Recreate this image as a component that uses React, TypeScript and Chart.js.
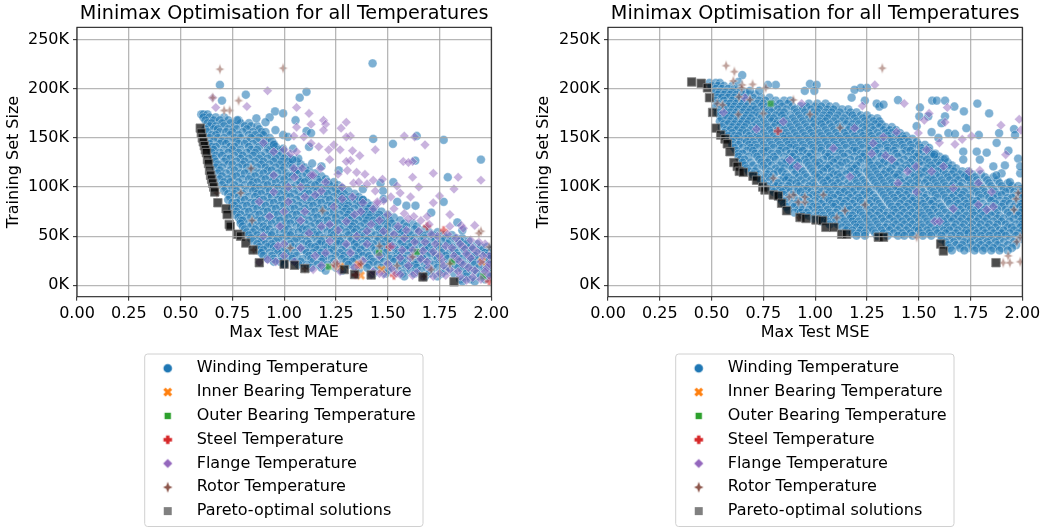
import React, { useEffect, useRef } from "react";
import { Chart, registerables } from "chart.js";

Chart.register(...registerables);

type Pair = [number, number];
type Row = [number, number[]];

const seriesNames = ["Winding Temperature", "Inner Bearing Temperature", "Outer Bearing Temperature", "Steel Temperature", "Flange Temperature", "Rotor Temperature", "Pareto-optimal solutions"];
const xTicks = [0, 0.25, 0.5, 0.75, 1, 1.25, 1.5, 1.75, 2];
const yTicks = [0, 50, 100, 150, 200, 250];

// Rows: training set size (thousands), then Max Test MAE values in hundredths
const maeWindingRows: Row[] = [
  [174, [60, 61, 63]],
  [171, [61, 64, 67, 71]],
  [168, [62, 66, 69, 73, 78]],
  [165, [63, 65, 70, 74, 79, 83]],
  [162, [64, 67, 71, 76, 81, 84, 87]],
  [159, [62, 66, 68, 73, 77, 82, 88]],
  [156, [63, 69, 72, 75, 80, 85, 89, 91]],
  [153, [65, 67, 74, 78, 83, 86, 90]],
  [150, [64, 68, 71, 76, 79, 84, 88, 93]],
  [147, [66, 70, 73, 77, 82, 87, 91, 94]],
  [144, [64, 69, 72, 78, 81, 85, 90, 95]],
  [141, [65, 67, 74, 76, 83, 88, 92, 96]],
  [138, [66, 71, 75, 79, 84, 87, 93, 97]],
  [135, [65, 69, 73, 78, 82, 86, 91, 95, 99]],
  [132, [67, 70, 76, 80, 85, 89, 94, 98, 101]],
  [129, [66, 72, 74, 79, 83, 88, 92, 96, 100, 103]],
  [126, [67, 71, 77, 81, 86, 90, 95, 99, 102, 106]],
  [123, [68, 73, 75, 80, 84, 89, 93, 98, 103, 108]],
  [120, [67, 70, 78, 82, 87, 91, 96, 100, 104, 110]],
  [117, [69, 74, 76, 83, 85, 92, 94, 99, 105, 107, 112]],
  [114, [68, 72, 79, 81, 88, 90, 97, 101, 106, 111, 115]],
  [111, [70, 75, 77, 84, 86, 93, 95, 102, 104, 109, 113, 118]],
  [108, [69, 73, 80, 83, 89, 91, 98, 100, 107, 112, 116, 120]],
  [105, [71, 74, 78, 85, 87, 94, 96, 103, 108, 110, 117, 121, 124]],
  [102, [70, 76, 81, 84, 90, 92, 99, 101, 106, 113, 115, 122, 126]],
  [99, [72, 75, 79, 86, 88, 95, 97, 104, 109, 111, 118, 120, 125, 128]],
  [96, [71, 77, 82, 85, 91, 93, 100, 102, 107, 114, 116, 123, 127, 131]],
  [93, [73, 76, 80, 87, 89, 96, 98, 105, 110, 112, 119, 121, 126, 129, 134]],
  [90, [74, 78, 83, 86, 92, 94, 101, 103, 108, 115, 117, 124, 128, 132, 136]],
  [87, [73, 79, 81, 88, 90, 97, 99, 106, 111, 113, 120, 122, 127, 130, 135, 138]],
  [84, [75, 77, 84, 86, 93, 95, 102, 104, 109, 116, 118, 125, 129, 133, 137, 140]],
  [81, [76, 80, 82, 89, 91, 98, 100, 107, 112, 114, 121, 123, 128, 131, 136, 139, 142]],
  [78, [75, 78, 85, 87, 94, 96, 103, 105, 110, 117, 119, 126, 130, 134, 138, 141, 144]],
  [75, [77, 81, 83, 90, 92, 99, 101, 108, 113, 115, 122, 124, 129, 132, 137, 140, 143, 147]],
  [72, [76, 79, 86, 88, 95, 97, 104, 106, 111, 118, 120, 127, 131, 135, 139, 142, 146, 150]],
  [69, [78, 82, 84, 91, 93, 100, 102, 109, 114, 116, 123, 125, 130, 133, 138, 141, 145, 149, 153]],
  [66, [79, 80, 87, 89, 96, 98, 105, 107, 112, 119, 121, 128, 132, 136, 140, 143, 147, 151, 156]],
  [63, [79, 83, 85, 92, 94, 101, 103, 110, 115, 117, 124, 126, 131, 134, 139, 144, 148, 152, 158, 162]],
  [60, [80, 84, 88, 90, 97, 99, 106, 108, 113, 120, 122, 129, 133, 137, 141, 145, 150, 154, 159, 164]],
  [57, [81, 86, 91, 93, 100, 102, 109, 111, 116, 118, 125, 127, 132, 135, 140, 146, 149, 155, 157, 163, 168]],
  [54, [82, 85, 89, 95, 98, 104, 107, 112, 114, 121, 123, 130, 134, 138, 142, 147, 151, 156, 160, 165, 170, 174]],
  [51, [83, 87, 92, 94, 101, 103, 110, 115, 117, 124, 126, 131, 136, 139, 144, 148, 153, 158, 161, 167, 172, 177, 181]],
  [48, [84, 88, 90, 97, 99, 106, 108, 113, 119, 122, 128, 133, 137, 141, 146, 150, 155, 159, 163, 168, 173, 178, 183, 186]],
  [45, [85, 89, 93, 96, 102, 105, 111, 116, 118, 125, 127, 132, 135, 140, 145, 149, 152, 157, 162, 166, 171, 176, 180, 185, 189]],
  [42, [87, 91, 94, 100, 103, 109, 112, 117, 120, 126, 129, 134, 138, 143, 147, 151, 156, 160, 164, 169, 174, 179, 184, 188, 193]],
  [39, [88, 92, 95, 98, 104, 107, 113, 115, 121, 123, 130, 135, 139, 142, 148, 153, 158, 161, 167, 170, 175, 181, 186, 190, 195, 198]],
  [36, [88, 90, 96, 99, 101, 108, 110, 116, 119, 124, 128, 133, 137, 144, 146, 150, 154, 159, 163, 168, 172, 177, 182, 187, 191, 196, 200]],
  [33, [89, 93, 97, 102, 105, 111, 114, 118, 122, 127, 131, 136, 140, 145, 149, 155, 157, 162, 165, 171, 176, 180, 183, 188, 193, 197, 199]],
  [30, [90, 94, 99, 103, 106, 112, 117, 120, 125, 129, 134, 138, 141, 147, 152, 156, 160, 166, 169, 173, 178, 184, 189, 192, 198, 200]],
  [27, [92, 95, 100, 104, 109, 113, 119, 123, 128, 132, 135, 142, 146, 151, 154, 158, 164, 167, 174, 179, 182, 186, 190, 194, 199]],
  [24, [95, 98, 105, 108, 114, 118, 124, 130, 133, 139, 143, 148, 153, 157, 162, 165, 170, 175, 181, 185, 191, 195, 197]],
  [21, [100, 107, 111, 116, 121, 126, 131, 137, 141, 145, 150, 156, 160, 163, 168, 172, 177, 183, 187, 192, 196, 200]],
  [18, [113, 118, 125, 134, 140, 147, 152, 159, 164, 169, 174, 180, 184, 189, 194, 198]],
  [15, [120, 128, 136, 144, 150, 155, 161, 166, 171, 178, 186, 191, 197]],
  [12, [143, 149, 157, 163, 170, 176, 182, 188, 193, 199]],
  [9, [158, 168, 174, 188, 195, 199]],
  [6, [185, 190, 197]],
  [4, [186, 192]],
];
const maeWindingOutliers: Pair[] = [[1.427, 226], [0.69, 204], [0.7, 188], [0.815, 194], [1.108, 197], [1.075, 191], [0.956, 177], [0.995, 175], [0.93, 171], [1.055, 168], [0.91, 166], [0.866, 170], [0.773, 168], [1.43, 149], [1.525, 144], [1.64, 152], [1.77, 148], [1.95, 128], [1.633, 127], [1.79, 110], [1.465, 104], [1.527, 105], [1.477, 96], [1.48, 88], [1.546, 85], [1.59, 81], [1.634, 81], [1.77, 85], [1.71, 74], [1.836, 64], [1.86, 56], [1.38, 98], [1.38, 87], [1.18, 121], [1.12, 141], [1.108, 157], [1.13, 155], [1.043, 139], [0.995, 139], [0.995, 153], [1.018, 151], [0.958, 158], [0.95, 143], [1.068, 129], [1.04, 128], [1.135, 124], [1.264, 117]];
const maeInner: Pair[] = [[1.47, 16], [1.27, 19], [1.955, 24], [1.36, 21], [1.37, 10]];
const maeOuter: Pair[] = [[1.457, 33], [1.64, 34], [1.81, 24], [1.96, 9], [1.215, 19]];
const maeSteel: Pair[] = [[1.51, 39], [1.345, 10.5], [1.69, 60], [1.77, 56], [1.99, 4], [1.25, 20], [1.53, 10], [1.36, 21]];
const maeFlange: Pair[] = [[0.92, 198], [1.06, 181], [1.12, 175], [0.82, 182], [0.655, 191], [0.67, 181], [1.13, 164], [1.19, 168], [1.2, 164], [1.19, 158], [1.06, 161], [1.3, 166], [1.275, 160], [1.32, 152], [1.3, 151], [1.58, 152], [1.63, 151], [1.68, 143], [1.44, 138], [1.62, 126], [1.575, 126], [1.6, 125], [1.72, 114], [1.62, 110], [1.84, 110], [1.95, 107], [1.82, 98], [1.65, 100], [1.61, 90], [1.75, 91], [1.72, 84], [1.8, 72], [1.855, 61], [1.865, 58], [1.24, 143], [1.215, 138], [1.27, 138], [1.33, 137], [1.365, 132], [1.32, 127], [1.3, 126], [1.305, 117], [1.35, 115], [1.39, 113], [1.43, 107], [1.475, 108], [1.335, 104], [1.36, 105], [1.4, 103], [1.545, 101], [1.56, 94], [1.515, 90], [1.48, 86], [1.45, 83], [1.43, 78], [1.22, 128], [1.175, 119], [1.13, 112], [1.087, 119], [1.047, 119], [1.03, 134], [1.06, 136], [1.0, 138], [0.95, 136], [0.9, 145], [1.167, 141], [1.13, 144.5], [1.095, 151], [1.047, 152], [1.53, 78], [1.58, 73], [1.69, 70], [1.626, 70], [1.66, 66], [1.92, 61], [0.88, 23.5], [1.42, 10.5], [1.67, 8.5], [0.92, 26], [0.93, 70], [0.95, 95], [0.98, 60], [1.0, 42], [1.02, 85], [1.05, 110], [1.08, 100], [1.1, 75], [1.12, 53], [1.15, 92], [1.15, 30], [1.18, 60], [1.2, 105], [1.22, 45], [1.24, 80], [1.25, 23], [1.28, 100], [1.3, 65], [1.32, 33], [1.33, 90], [1.35, 50], [1.37, 75], [1.38, 25], [1.4, 42], [1.42, 62], [1.43, 14], [1.45, 85], [1.46, 30], [1.48, 55], [1.5, 22], [1.5, 72], [1.52, 40], [1.54, 12], [1.55, 60], [1.56, 28], [1.58, 48], [1.6, 68], [1.6, 20], [1.62, 36], [1.64, 13], [1.65, 55], [1.66, 27], [1.68, 44], [1.7, 62], [1.7, 18], [1.72, 34], [1.74, 50], [1.75, 12], [1.76, 26], [1.78, 40], [1.8, 60], [1.8, 16], [1.82, 30], [1.83, 48], [1.85, 9], [1.86, 22], [1.87, 38], [1.88, 5], [1.9, 28], [1.9, 46], [1.92, 15], [1.93, 34], [1.95, 6], [1.95, 24], [1.97, 42], [1.98, 18], [1.99, 30], [1.99, 10], [1.52, 17], [1.57, 36], [1.59, 56], [1.61, 28], [1.63, 44], [1.67, 35], [1.69, 24], [1.71, 52], [1.73, 42], [1.75, 30], [1.77, 20], [1.79, 52], [1.81, 38], [1.84, 26], [1.85, 42], [1.88, 32], [1.89, 18], [1.91, 38], [1.94, 44], [1.96, 30], [1.97, 14], [1.99, 22], [1.91, 8], [1.84, 14], [1.78, 10], [1.72, 9], [1.62, 10], [1.56, 11], [1.48, 11], [1.46, 12], [1.34, 18], [1.27, 14], [1.18, 20], [1.14, 16], [1.05, 24], [0.96, 24], [1.0, 30], [1.08, 38], [1.2, 33], [1.26, 56], [1.34, 72], [1.4, 55], [1.46, 66], [1.44, 96], [1.38, 84], [1.28, 88], [1.22, 62], [1.1, 90], [1.0, 75], [0.9, 50], [0.88, 85], [0.95, 112], [1.02, 100], [1.14, 112], [1.26, 113], [1.18, 96], [1.08, 66], [0.97, 40], [1.3, 42], [1.53, 52]];
const maeRotor: Pair[] = [[0.69, 220], [0.995, 221], [0.78, 188], [0.655, 191], [0.737, 178], [0.71, 178], [1.95, 55], [1.94, 53], [0.845, 66], [0.79, 94], [0.675, 94], [1.03, 38], [1.185, 76], [1.46, 40], [1.62, 29], [1.545, 20], [1.24, 21], [1.37, 22], [1.71, 16], [1.99, 39], [1.8, 22], [1.1, 17], [1.675, 9], [1.255, 22], [0.853, 36], [0.84, 119]];
const maePareto: Pair[] = [[0.595, 160], [0.6, 155], [0.605, 150], [0.61, 146], [0.615, 142], [0.62, 138], [0.625, 135], [0.63, 128], [0.635, 124], [0.64, 117], [0.645, 112], [0.65, 108], [0.655, 104], [0.66, 100], [0.665, 95], [0.68, 84], [0.72, 78], [0.725, 72], [0.735, 62], [0.74, 60], [0.775, 52], [0.79, 50], [0.815, 43], [0.85, 36], [0.88, 23], [1.0, 21.5], [1.05, 20.5], [1.1, 17], [1.29, 16], [1.34, 11], [1.42, 10.5], [1.67, 8.5], [1.82, 3.5]];

// Rows: training set size (thousands), then Max Test MSE values in hundredths
const mseWindingRows: Row[] = [
  [206, [49, 52, 54]],
  [203, [50, 53, 56, 60]],
  [200, [52, 55, 58, 61, 63]],
  [197, [52, 54, 57, 60, 64, 66]],
  [194, [53, 56, 59, 62, 65, 68, 71]],
  [191, [53, 55, 58, 61, 64, 67, 70, 74, 78]],
  [188, [52, 56, 60, 63, 66, 69, 73, 76, 81, 85, 88]],
  [185, [53, 57, 59, 62, 65, 68, 72, 75, 79, 83, 87, 97, 101, 105]],
  [182, [52, 55, 58, 61, 64, 67, 70, 74, 77, 80, 84, 89, 93, 96, 100, 103, 107, 110]],
  [179, [54, 56, 60, 63, 66, 69, 71, 75, 78, 82, 86, 90, 94, 98, 102, 106, 109, 113, 116]],
  [176, [53, 57, 59, 62, 65, 68, 72, 76, 79, 83, 85, 91, 95, 99, 101, 105, 108, 112, 117, 120]],
  [173, [54, 58, 61, 64, 67, 70, 73, 77, 81, 84, 88, 92, 96, 100, 104, 107, 111, 115, 118, 122, 125]],
  [170, [55, 57, 60, 63, 66, 69, 74, 78, 80, 85, 89, 93, 97, 99, 103, 106, 110, 114, 119, 123, 127, 130]],
  [167, [54, 59, 62, 65, 68, 71, 75, 79, 82, 86, 90, 94, 98, 102, 105, 109, 113, 116, 120, 124, 128, 131]],
  [164, [56, 58, 61, 64, 67, 72, 76, 81, 83, 87, 91, 95, 100, 103, 107, 111, 115, 118, 121, 125, 129, 132]],
  [161, [55, 60, 63, 66, 70, 73, 77, 80, 84, 88, 92, 96, 99, 104, 108, 112, 117, 119, 123, 127, 131, 134, 137]],
  [158, [57, 59, 62, 65, 69, 74, 78, 82, 85, 89, 93, 97, 101, 105, 109, 113, 116, 120, 124, 128, 133, 136, 139]],
  [155, [56, 60, 64, 67, 71, 75, 79, 83, 86, 90, 94, 98, 102, 106, 110, 114, 118, 122, 126, 130, 134, 137, 141]],
  [152, [58, 61, 63, 68, 72, 76, 80, 84, 87, 91, 95, 99, 103, 107, 111, 115, 119, 123, 127, 131, 135, 139, 142, 144]],
  [149, [59, 62, 66, 69, 73, 77, 81, 85, 88, 92, 96, 100, 104, 108, 112, 116, 120, 124, 128, 132, 136, 140, 143, 147]],
  [146, [60, 64, 67, 70, 74, 78, 82, 86, 89, 93, 97, 101, 105, 109, 113, 117, 121, 125, 129, 133, 137, 141, 145, 149]],
  [143, [60, 63, 68, 71, 75, 79, 83, 87, 90, 94, 98, 102, 106, 110, 114, 118, 122, 126, 130, 134, 138, 142, 146, 150, 153]],
  [140, [61, 65, 69, 72, 76, 80, 84, 88, 91, 95, 99, 103, 107, 111, 115, 119, 123, 127, 131, 135, 139, 143, 147, 151, 155]],
  [137, [62, 67, 70, 75, 77, 83, 86, 92, 94, 100, 103, 109, 112, 118, 120, 126, 129, 135, 138, 144, 146, 152, 155]],
  [134, [63, 65, 71, 74, 79, 82, 88, 90, 96, 98, 105, 107, 113, 116, 122, 124, 130, 133, 139, 142, 148, 150, 156, 158]],
  [131, [63, 68, 72, 76, 80, 85, 89, 93, 97, 101, 106, 110, 114, 119, 123, 127, 132, 136, 140, 145, 149, 153, 157, 160]],
  [128, [64, 66, 73, 78, 81, 87, 91, 95, 99, 104, 108, 111, 117, 121, 125, 128, 134, 137, 143, 147, 151, 154, 159, 162]],
  [125, [65, 69, 74, 77, 84, 86, 92, 96, 100, 102, 109, 113, 115, 122, 126, 131, 133, 138, 141, 146, 150, 155, 158, 161, 164]],
  [122, [66, 70, 75, 79, 83, 88, 90, 97, 101, 105, 107, 112, 118, 120, 127, 130, 135, 139, 144, 148, 152, 156, 160, 163, 166]],
  [119, [67, 72, 76, 81, 85, 89, 93, 98, 103, 106, 110, 116, 119, 124, 128, 132, 137, 142, 145, 149, 154, 157, 161, 165, 168]],
  [116, [68, 71, 78, 82, 84, 91, 94, 99, 104, 108, 113, 117, 121, 125, 129, 134, 136, 141, 147, 151, 153, 159, 162, 167, 171, 174]],
  [113, [70, 73, 77, 80, 86, 90, 95, 100, 102, 109, 111, 115, 120, 126, 130, 133, 138, 140, 146, 150, 155, 158, 163, 166, 170, 173, 176, 180]],
  [110, [72, 76, 79, 85, 87, 92, 96, 101, 105, 107, 112, 118, 122, 127, 131, 135, 139, 143, 148, 152, 156, 160, 164, 168, 172, 177, 182, 186]],
  [107, [74, 78, 83, 86, 89, 93, 98, 103, 106, 110, 114, 119, 123, 128, 132, 136, 141, 145, 149, 154, 157, 161, 165, 169, 174, 178, 183, 188]],
  [104, [75, 80, 82, 88, 91, 95, 99, 104, 108, 111, 116, 120, 124, 129, 133, 137, 142, 146, 150, 153, 158, 162, 167, 171, 175, 179, 184, 189, 193]],
  [101, [77, 81, 84, 87, 92, 97, 100, 105, 109, 113, 117, 121, 125, 130, 134, 138, 140, 144, 148, 155, 159, 163, 166, 170, 176, 180, 185, 190, 195, 198]],
  [98, [79, 83, 86, 90, 94, 96, 102, 106, 110, 115, 119, 122, 127, 131, 135, 139, 143, 147, 151, 156, 160, 164, 168, 173, 177, 181, 186, 191, 194, 199]],
  [95, [80, 84, 88, 91, 93, 98, 103, 107, 112, 114, 118, 124, 126, 132, 136, 141, 145, 149, 152, 157, 161, 165, 169, 172, 178, 182, 187, 192, 196, 200]],
  [92, [82, 85, 89, 95, 99, 101, 105, 108, 111, 116, 120, 123, 128, 133, 137, 140, 144, 150, 154, 158, 162, 167, 171, 175, 179, 183, 188, 190, 197, 199]],
  [89, [83, 87, 90, 94, 97, 102, 106, 109, 113, 117, 121, 125, 129, 134, 138, 142, 146, 148, 153, 159, 163, 166, 170, 174, 180, 184, 186, 193, 195, 200]],
  [86, [84, 86, 92, 96, 100, 104, 107, 112, 115, 119, 122, 127, 130, 135, 139, 143, 147, 151, 155, 157, 164, 168, 172, 176, 178, 185, 189, 192, 198]],
  [83, [85, 89, 91, 95, 98, 103, 108, 110, 114, 118, 123, 126, 131, 136, 141, 145, 149, 152, 156, 160, 165, 169, 173, 177, 181, 187, 191, 194, 197, 200]],
  [80, [86, 90, 93, 99, 101, 105, 109, 113, 116, 120, 124, 128, 132, 137, 140, 144, 148, 153, 158, 161, 167, 171, 174, 179, 183, 186, 190, 196, 199]],
  [77, [87, 92, 94, 97, 102, 106, 111, 115, 117, 121, 125, 129, 133, 138, 142, 146, 150, 154, 157, 162, 166, 170, 175, 178, 182, 188, 192, 195, 200]],
  [74, [90, 93, 96, 100, 103, 107, 110, 114, 119, 122, 127, 131, 135, 139, 143, 147, 151, 155, 159, 163, 168, 172, 176, 180, 184, 187, 193, 197, 199]],
  [71, [94, 97, 101, 104, 108, 112, 116, 118, 123, 126, 130, 134, 137, 141, 145, 149, 152, 156, 160, 165, 169, 173, 177, 181, 185, 189, 194, 198]],
  [68, [99, 102, 105, 109, 113, 117, 120, 124, 128, 132, 136, 140, 144, 148, 153, 157, 161, 164, 167, 171, 175, 179, 183, 188, 191, 196, 200]],
  [65, [103, 106, 110, 114, 118, 121, 125, 129, 133, 138, 142, 146, 150, 154, 158, 162, 166, 170, 174, 178, 182, 186, 190, 194, 199]],
  [62, [107, 111, 115, 119, 122, 126, 130, 135, 139, 143, 147, 151, 155, 159, 163, 168, 172, 176, 180, 184, 188, 192, 197, 200]],
  [59, [113, 116, 120, 123, 127, 131, 134, 137, 141, 145, 149, 152, 156, 160, 164, 167, 171, 175, 179, 183, 187, 193, 195, 199]],
  [56, [115, 118, 122, 125, 128, 132, 136, 140, 144, 148, 150, 154, 158, 162, 165, 169, 173, 177, 181, 185, 189, 191, 196, 200]],
  [53, [118, 121, 124, 129, 133, 138, 142, 146, 151, 155, 159, 163, 168, 172, 174, 178, 182, 186, 190, 194, 198]],
  [50.5, [120, 124, 130, 135, 140, 143, 147, 152, 156, 161, 166, 170, 176, 180, 184, 188, 192, 197]],
  [47, [161, 165, 169, 173, 177, 181, 185, 189, 194, 199]],
  [44, [163, 167, 172, 175, 179, 183, 187, 191, 196]],
  [41, [164, 168, 171, 176, 180, 184, 188, 193, 197]],
  [38, [165, 170, 174, 178, 182, 186, 190, 195]],
  [35.5, [166, 172, 177, 181, 185, 189, 193]],
];
const mseWindingOutliers: Pair[] = [[0.648, 214], [0.63, 207], [0.81, 204], [0.772, 204], [0.975, 205], [1.007, 204], [0.95, 198], [0.996, 198], [0.685, 198], [0.73, 198], [1.25, 201], [1.22, 201], [1.19, 199], [1.176, 191], [1.24, 188], [1.297, 185], [1.31, 182], [1.33, 184], [1.4, 188.6], [1.565, 188], [1.587, 188], [1.627, 188], [1.672, 182], [1.718, 177], [1.783, 185], [1.84, 175], [1.506, 181], [1.503, 172], [1.546, 172], [1.627, 172], [1.49, 162], [1.61, 165], [1.73, 160], [1.79, 153], [1.888, 155], [1.96, 159], [1.965, 153], [1.876, 145], [1.78, 136], [1.828, 135], [1.933, 137], [1.98, 129], [1.575, 133], [1.627, 129], [1.715, 136], [1.715, 128], [1.86, 121], [1.916, 122], [1.9, 114], [1.94, 105], [1.99, 114], [1.99, 121], [1.74, 110], [1.795, 128], [1.875, 112], [1.643, 155], [1.675, 154], [1.595, 150], [1.562, 156]];
const mseInner: Pair[] = [];
const mseOuter: Pair[] = [[0.785, 185]];
const mseSteel: Pair[] = [[0.82, 157]];
const mseFlange: Pair[] = [[1.288, 204], [1.43, 185], [1.228, 182.5], [1.638, 181], [1.527, 168], [1.55, 175], [1.627, 166], [1.897, 163], [1.985, 169], [1.993, 158], [1.6, 145], [1.675, 143.5], [1.71, 148.6], [1.755, 152], [1.92, 133], [1.795, 117], [1.744, 116], [1.562, 116], [1.62, 121], [1.487, 121], [1.446, 116], [1.4, 104], [1.34, 132], [1.37, 128], [1.33, 151], [1.28, 144.5], [1.273, 134], [1.19, 160], [0.935, 185], [0.557, 176], [0.66, 191], [0.717, 159], [0.846, 166.6], [1.088, 139.5], [0.878, 127.6], [0.915, 121], [1.168, 110.6], [1.667, 78], [1.578, 65], [1.6, 65], [1.788, 82], [1.86, 80], [1.828, 77], [1.49, 95], [1.788, 104], [1.852, 95], [1.667, 99], [1.538, 138], [1.498, 155], [1.393, 156]];
const mseRotor: Pair[] = [[0.57, 223.6], [1.324, 221], [0.61, 217.5], [0.648, 204], [0.605, 208], [0.698, 204.6], [0.761, 201], [0.645, 201], [0.895, 188.7], [0.685, 189], [0.632, 192], [0.528, 185], [0.553, 183.6], [0.629, 174], [0.975, 174], [1.12, 160.5], [0.798, 109], [0.895, 92], [0.919, 84.5], [0.95, 84.5], [0.95, 90], [1.04, 92], [1.144, 76], [1.104, 69], [0.922, 69], [0.875, 90], [1.49, 49], [1.98, 94], [1.97, 88], [1.96, 77], [1.973, 44.5], [1.932, 30], [1.908, 23], [1.94, 23], [1.99, 24], [1.99, 49], [0.75, 175], [1.24, 82]];
const msePareto: Pair[] = [[0.404, 207], [0.45, 205.6], [0.48, 201], [0.49, 191], [0.505, 176], [0.52, 160], [0.544, 153], [0.565, 149], [0.576, 144], [0.589, 136], [0.608, 125], [0.624, 121], [0.634, 116], [0.653, 115], [0.7, 111], [0.717, 107], [0.747, 100], [0.758, 97], [0.798, 92], [0.822, 91], [0.838, 83.5], [0.862, 76], [0.927, 69], [0.956, 68], [1.004, 66.5], [1.036, 66], [1.052, 59], [1.09, 59], [1.128, 52], [1.152, 52], [1.305, 49], [1.33, 49], [1.606, 42], [1.619, 35], [1.873, 23]];

const COLORS = ["31,119,180", "255,127,14", "44,160,44", "214,39,40", "148,103,189", "140,86,75"];

type PathFn = (c: CanvasRenderingContext2D) => void;
const polygon = (pts: number[][]): PathFn => (c) => {
  c.beginPath();
  pts.forEach(([x, y], i) => (i ? c.lineTo(x, y) : c.moveTo(x, y)));
  c.closePath();
};
const xShape = polygon([[-4.4, -2.2], [-2.2, -4.4], [0, -2.2], [2.2, -4.4], [4.4, -2.2], [2.2, 0], [4.4, 2.2], [2.2, 4.4], [0, 2.2], [-2.2, 4.4], [-4.4, 2.2], [-2.2, 0]]);
const plusShape = polygon([[-1.7, -4.3], [1.7, -4.3], [1.7, -1.7], [4.3, -1.7], [4.3, 1.7], [1.7, 1.7], [1.7, 4.3], [-1.7, 4.3], [-1.7, 1.7], [-4.3, 1.7], [-4.3, -1.7], [-1.7, -1.7]]);
const starShape = polygon([[0, -5.6], [1.5, -1.5], [4.8, 0], [1.5, 1.5], [0, 5.6], [-1.5, 1.5], [-4.8, 0], [-1.5, -1.5]]);
const rectShape = (h: number): PathFn => polygon([[-h, -h], [h, -h], [h, h], [-h, h]]);
const diamondShape = polygon([[0, -4.6], [4.6, 0], [0, 4.6], [-4.6, 0]]);
const circleShape: PathFn = (c) => {
  c.beginPath();
  c.arc(0, 0, 4.3, 0, Math.PI * 2);
};

function sprite(path: PathFn, fill: string, edge?: string) {
  const cv = document.createElement("canvas");
  cv.width = 16;
  cv.height = 16;
  const c = cv.getContext("2d")!;
  c.translate(8, 8);
  path(c);
  c.fillStyle = fill;
  c.fill();
  if (edge) {
    c.strokeStyle = edge;
    c.lineWidth = 0.8;
    c.stroke();
  }
  return cv;
}

const expandRows = (rows: Row[]) => rows.flatMap(([y, xs]) => xs.map((x) => ({ x: x / 100, y })));
const toPoints = (pairs: Pair[]) => pairs.map(([x, y]) => ({ x, y }));

interface Panel {
  xTitle: string;
  axisWidth: number;
  rightPad: number;
  yTitlePad: number;
  legendLeft: number;
  boxLeft: number;
  winding: { x: number; y: number }[];
  inner: Pair[];
  outer: Pair[];
  steel: Pair[];
  flange: Pair[];
  rotor: Pair[];
  pareto: Pair[];
}

function makeChart(canvas: HTMLCanvasElement, p: Panel) {
  const legendSprites = [
    sprite(circleShape, "#1f77b4"),
    sprite(xShape, "#ff7f0e"),
    sprite(rectShape(3.2), "#2ca02c"),
    sprite(plusShape, "#d62728"),
    sprite(diamondShape, "#9467bd"),
    sprite(starShape, "#8c564b"),
    sprite(rectShape(4), "#808080"),
  ];
  const edge = "rgba(255,255,255,0.5)";
  const gridColor = "rgba(165,165,165,0.8)";
  const chart = new Chart(canvas, {
    type: "scatter",
    data: {
      datasets: [
        { label: seriesNames[0], order: 6, data: p.winding, pointStyle: "circle", pointRadius: 4.4, backgroundColor: `rgba(${COLORS[0]},0.58)`, borderColor: "rgba(255,255,255,0.36)", borderWidth: 0.9 },
        { label: seriesNames[1], order: 5, data: toPoints(p.inner), pointStyle: sprite(xShape, `rgba(${COLORS[1]},0.7)`, edge), pointRadius: 4 },
        { label: seriesNames[2], order: 4, data: toPoints(p.outer), pointStyle: sprite(rectShape(3.2), `rgba(${COLORS[2]},0.7)`, edge), pointRadius: 4 },
        { label: seriesNames[3], order: 3, data: toPoints(p.steel), pointStyle: sprite(plusShape, `rgba(${COLORS[3]},0.6)`, edge), pointRadius: 4 },
        { label: seriesNames[4], order: 2, data: toPoints(p.flange), pointStyle: "rectRot", pointRadius: 4.8, backgroundColor: `rgba(${COLORS[4]},0.5)`, borderColor: edge, borderWidth: 0.8 },
        { label: seriesNames[5], order: 1, data: toPoints(p.rotor), pointStyle: sprite(starShape, `rgba(${COLORS[5]},0.55)`, edge), pointRadius: 4 },
        { label: seriesNames[6], order: 0, data: toPoints(p.pareto), pointStyle: "rect", pointRadius: 6, backgroundColor: "rgba(0,0,0,0.7)", borderColor: "rgba(130,130,130,0.8)", borderWidth: 1 },
      ],
    },
    options: {
      responsive: false,
      animation: false,
      events: [],
      layout: { padding: { left: 0, right: p.rightPad, top: 0, bottom: 182.3 } },
      scales: {
        x: {
          type: "linear",
          min: 0,
          max: 2,
          afterFit: (s: any) => {
            s.height = 50;
          },
          afterBuildTicks: (s: any) => {
            s.ticks = xTicks.map((value) => ({ value }));
          },
          border: { display: false },
          grid: { color: gridColor, lineWidth: 1.3, z: 1, tickColor: "#222", tickLength: 4, tickWidth: 1 },
          ticks: { color: "#000", font: { family: "DejaVu Sans", size: 16 }, padding: 4, maxRotation: 0, callback: (v: any) => Number(v).toFixed(2) },
          title: { display: true, text: p.xTitle, color: "#000", font: { family: "DejaVu Sans", size: 16 }, padding: { top: 0, bottom: 4 } },
        },
        y: {
          type: "linear",
          min: -11.6,
          max: 262.6,
          afterFit: (s: any) => {
            s.width = p.axisWidth;
          },
          afterBuildTicks: (s: any) => {
            s.ticks = yTicks.map((value) => ({ value }));
          },
          border: { display: false },
          grid: { color: gridColor, lineWidth: 1.3, z: 1, tickColor: "#222", tickLength: 4, tickWidth: 1 },
          ticks: { color: "#000", font: { family: "DejaVu Sans", size: 16 }, padding: 4, callback: (v: any) => `${v}K` },
          title: { display: true, text: "Training Set Size", color: "#000", font: { family: "DejaVu Sans", size: 16 }, padding: { top: p.yTitlePad, bottom: 0 } },
        },
      },
      plugins: {
        tooltip: { enabled: false },
        title: {
          display: true,
          text: "Minimax Optimisation for all Temperatures",
          color: "#000",
          fullSize: false,
          font: { family: "DejaVu Sans", size: 19.2, weight: "normal" },
          padding: { top: 2.5, bottom: 1.8 },
        },
        legend: {
          position: "chartArea",
          align: "start",
          labels: {
            usePointStyle: true,
            pointStyleWidth: 42,
            boxHeight: 10,
            padding: 7.8,
            color: "#000",
            font: { family: "DejaVu Sans", size: 16 },
            generateLabels: (c: any) =>
              c.data.datasets.map((d: any, i: number) => ({
                text: d.label,
                pointStyle: legendSprites[i],
                fillStyle: "#000",
                strokeStyle: "#000",
                lineWidth: 0,
                hidden: false,
                datasetIndex: i,
                textAlign: "left",
                fontColor: "#000",
              })),
          },
        },
      },
    } as any,
    plugins: [
      {
        id: "mplFrame",
        afterLayout(c: any) {
          const l = c.legend;
          l.left = p.legendLeft;
          l.right = p.legendLeft + 290;
          l.top = 352.5;
          l.bottom = 528;
          l.width = 290;
          l.height = l.bottom - l.top;
        },
        afterDraw(c: any) {
          const { ctx, chartArea: a } = c;
          ctx.save();
          ctx.strokeStyle = "#222";
          ctx.lineWidth = 1.1;
          ctx.strokeRect(a.left, a.top, a.right - a.left, a.bottom - a.top);
          ctx.strokeStyle = "#d0d0d0";
          ctx.lineWidth = 1;
          ctx.beginPath();
          ctx.roundRect(p.boxLeft, 354, 278.3, 172.5, 3);
          ctx.stroke();
          ctx.restore();
        },
      },
    ],
  });
  return chart;
}

export default function App() {
  const left = useRef<HTMLCanvasElement>(null);
  const right = useRef<HTMLCanvasElement>(null);
  useEffect(() => {
    const a = makeChart(left.current!, {
      xTitle: "Max Test MAE",
      axisWidth: 77,
      rightPad: 34.7,
      yTitlePad: 4.3,
      legendLeft: 138.9,
      boxLeft: 144.7,
      winding: [...expandRows(maeWindingRows), ...toPoints(maeWindingOutliers)],
      inner: maeInner,
      outer: maeOuter,
      steel: maeSteel,
      flange: maeFlange,
      rotor: maeRotor,
      pareto: maePareto,
    });
    const b = makeChart(right.current!, {
      xTitle: "Max Test MSE",
      axisWidth: 82,
      rightPad: 29.7,
      yTitlePad: 8,
      legendLeft: 143.9,
      boxLeft: 149.7,
      winding: [...expandRows(mseWindingRows), ...toPoints(mseWindingOutliers)],
      inner: mseInner,
      outer: mseOuter,
      steel: mseSteel,
      flange: mseFlange,
      rotor: mseRotor,
      pareto: msePareto,
    });
    return () => {
      a.destroy();
      b.destroy();
    };
  }, []);
  const style: React.CSSProperties = { position: "absolute", top: 0, filter: "blur(0.35px)" };
  return (
    <div style={{ position: "fixed", left: 0, top: 0, width: 1052, height: 529, background: "#fff" }}>
      <canvas ref={left} width={526} height={529} style={{ ...style, left: 0 }} />
      <canvas ref={right} width={526} height={529} style={{ ...style, left: 526 }} />
    </div>
  );
}
